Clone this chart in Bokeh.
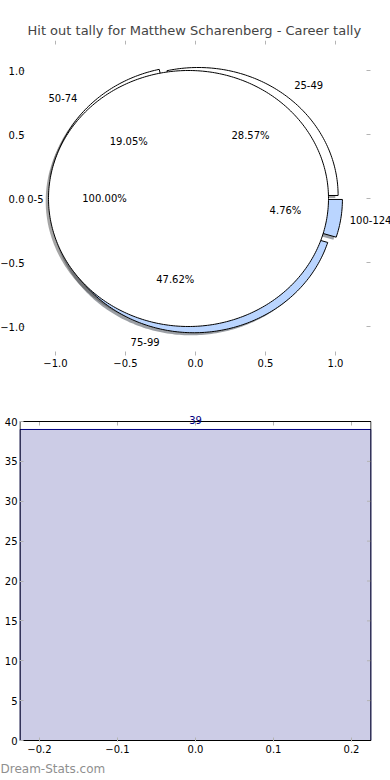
import numpy as np
from bokeh.plotting import figure
from bokeh.models import ColumnDataSource, Range1d, FixedTicker, LabelSet, Title
from bokeh.core.properties import value
from bokeh.embed import file_html
from bokeh.resources import INLINE

# ---------------- data ----------------
title_text = "Hit out tally for Matthew Scharenberg - Career tally"
outer_labels = ["25-49", "50-74", "75-99", "100-124"]
outer_counts = [6, 4, 10, 1]
outer_colors = ["#ffffff", "#ffffff", "#bad5ff", "#bad5ff"]
outer_explode = [0.03, 0.05, 0.05, 0.05]
inner_labels = ["0-5"]
inner_counts = [1]
inner_colors = ["#ffffff"]
inner_explode = [0.05]
pie_ticks = [-1.0, -0.5, 0.0, 0.5, 1.0]
pie_xlim = (-1.25, 1.25)

bar_x = [0.0]
bar_width = 0.45
bar_values = [39]
bar_xticks = [-0.2, -0.1, 0.0, 0.1, 0.2]
bar_yticks = [0, 5, 10, 15, 20, 25, 30, 35, 40]
watermark = "Dream-Stats.com"

FONT = "DejaVu Sans"
TICK_GREY = "#b4b4b4"
W = 390


def fmt(v, nd=1):
    s = f"{abs(v):.{nd}f}"
    return ("\u2212" + s) if v < 0 else s


def pie_geometry(counts, explode, start_deg=0.0):
    total = float(sum(counts))
    fr = np.asarray(counts, dtype=float) / total
    starts = np.radians(start_deg) + 2 * np.pi * np.concatenate([[0.0], np.cumsum(fr)[:-1]])
    xs, ys, lx, ly, px, py, pct = [], [], [], [], [], [], []
    for f, t0, e in zip(fr, starts, explode):
        t1 = t0 + 2 * np.pi * f
        mid = 0.5 * (t0 + t1)
        cx, cy = e * np.cos(mid), e * np.sin(mid)
        arc = np.linspace(t0, t1, max(int(360 * f), 12))
        ax = cx + np.cos(arc)
        ay = cy + np.sin(arc)
        if f >= 0.9999:
            xs.append(list(ax)); ys.append(list(ay))
        else:
            xs.append([cx] + list(ax) + [cx]); ys.append([cy] + list(ay) + [cy])
        lx.append(cx + 1.1 * np.cos(mid)); ly.append(cy + 1.1 * np.sin(mid))
        px.append(cx + 0.6 * np.cos(mid)); py.append(cy + 0.6 * np.sin(mid))
        pct.append(f"{100 * f:.2f}%")
    return xs, ys, lx, ly, px, py, pct


def shade(hexcol):
    h = hexcol.lstrip("#")
    r, g, b = (int(h[i:i + 2], 16) for i in (0, 2, 4))
    return "#%02x%02x%02x" % (int(0.3 * r), int(0.3 * g), int(0.3 * b))


def style_axis(ax, ticks, nd=1, standoff=3):
    ax.ticker = FixedTicker(ticks=ticks)
    ax.axis_line_color = None
    ax.major_tick_line_color = TICK_GREY
    ax.major_tick_in = 4
    ax.major_tick_out = 0
    ax.minor_tick_line_color = None
    ax.major_label_text_font = FONT
    ax.major_label_text_font_size = "10px"
    ax.major_label_text_color = "black"
    ax.major_label_standoff = standoff
    ax.major_label_overrides = {t: fmt(t, nd) for t in ticks}


def tick_marks(fig, xticks, yticks, x_edge, y_edge, sx, sy, x_dir=-1, y_dir=-1):
    # 4 px tick marks drawn from an edge, pointing into the axes
    fig.segment(x0=xticks, x1=xticks, y0=[y_edge] * len(xticks),
                y1=[y_edge + y_dir * 4.0 / sy] * len(xticks), line_color=TICK_GREY, line_width=1)
    fig.segment(x0=[x_edge] * len(yticks), x1=[x_edge + x_dir * 4.0 / sx] * len(yticks),
                y0=yticks, y1=yticks, line_color=TICK_GREY, line_width=1)


def add_labels(fig, xs, ys, texts, align, x_off=0, color="black"):
    src = ColumnDataSource(dict(x=xs, y=ys, t=texts))
    fig.add_layout(LabelSet(x="x", y="y", text="t", source=src, text_align=align,
                            x_offset=x_off, text_baseline="middle", text_font=value(FONT),
                            text_font_size="10px", text_color=color))


# ---------------- pie figure ----------------
H1 = 385
PIE_T, PIE_B = 40, 355      # page y of frame
CX, SX = 195, 140.0         # page x of 0, px per unit
CY, SY = 198, 128.0
y_top = (CY - PIE_T) / SY
p = figure(width=W, height=H1, output_backend="svg", toolbar_location=None,
           x_range=Range1d((0 - CX) / SX, (W - CX) / SX),
           y_range=Range1d((CY - PIE_B) / SY, y_top),
           y_axis_location=None,
           min_border_left=0, min_border_right=0,
           min_border_top=PIE_T, min_border_bottom=H1 - PIE_B, tools="")
p.outline_line_color = None
p.grid.visible = False
p.background_fill_color = "white"
p.border_fill_color = "white"
p.title.text = title_text
p.title.text_font = FONT
p.title.text_font_size = "13px"
p.title.text_font_style = "normal"
p.title.align = "left"
p.title.offset = 27
p.title.standoff = 6
style_axis(p.xaxis[0], pie_ticks)

oxs, oys, olx, oly, opx, opy, opct = pie_geometry(outer_counts, outer_explode)
ixs, iys, ilx, ily, ipx, ipy, ipct = pie_geometry(inner_counts, inner_explode)

shadow_src = ColumnDataSource(dict(
    xs=[[v - 0.02 for v in x] for x in oxs + ixs],
    ys=[[v - 0.02 for v in y] for y in oys + iys],
    c=[shade(c) for c in outer_colors + inner_colors]))
p.patches("xs", "ys", source=shadow_src, fill_color="c", fill_alpha=0.5, line_color=None)
outer_src = ColumnDataSource(dict(xs=oxs, ys=oys, c=outer_colors))
p.patches("xs", "ys", source=outer_src, fill_color="c", line_color="black", line_width=1)
inner_src = ColumnDataSource(dict(xs=ixs, ys=iys, c=inner_colors))
p.patches("xs", "ys", source=inner_src, fill_color="c", line_color="black", line_width=1)

# tick marks: top & right edges, and left edge (y axis of the pie axes)
tick_marks(p, pie_ticks, pie_ticks, pie_xlim[1], y_top, SX, SY)
tick_marks(p, [], pie_ticks, pie_xlim[0], y_top, SX, SY, x_dir=1)
# y tick labels of the pie axes
add_labels(p, [pie_xlim[0]] * len(pie_ticks), pie_ticks, [fmt(t) for t in pie_ticks], "right", 4)

# outer category labels (left aligned on the right half, right aligned on the left)
r_i = [i for i, x in enumerate(olx) if x > 0 and outer_labels[i] != "100-124"]
e_i = [i for i, x in enumerate(olx) if outer_labels[i] == "100-124"]
l_i = [i for i, x in enumerate(olx) if x <= 0]
add_labels(p, [olx[i] for i in r_i], [oly[i] for i in r_i], [outer_labels[i] for i in r_i], "left")
add_labels(p, [olx[i] for i in e_i], [oly[i] for i in e_i], [outer_labels[i] for i in e_i], "left", -5)
add_labels(p, [olx[i] for i in l_i], [oly[i] for i in l_i], [outer_labels[i] for i in l_i], "right")
add_labels(p, ilx, ily, inner_labels, "right", 9)
add_labels(p, opx + ipx, opy + ipy, opct + ipct, "center")

# ---------------- bar figure ----------------
H2 = 780 - H1
BY0 = 740                    # page y of value 0
BSY = (740 - 421) / 40.0     # px per unit
BX0, BSX = 195, 780.0
BAR_L, BAR_R = 19, 371       # frame, page x
BAR_T, BAR_B = 410, 741      # frame, page y
b = figure(width=W, height=H2, output_backend="svg", toolbar_location=None,
           x_range=Range1d((BAR_L - BX0) / BSX, (BAR_R - BX0) / BSX),
           y_range=Range1d((BY0 - BAR_B) / BSY, (BY0 - BAR_T) / BSY),
           min_border_left=BAR_L, min_border_right=W - BAR_R,
           min_border_top=BAR_T - H1, min_border_bottom=780 - BAR_B, tools="")
b.grid.visible = False
b.outline_line_color = None
b.background_fill_color = "white"
b.border_fill_color = "white"
style_axis(b.xaxis[0], bar_xticks)
style_axis(b.yaxis[0], bar_yticks, nd=0, standoff=2)

bar_src = ColumnDataSource(dict(x=bar_x, top=bar_values, t=[str(v) for v in bar_values]))
b.vbar(x="x", top="top", bottom=0, width=bar_width, source=bar_src,
       fill_color="#ccccE6", line_color="#000080", line_width=1)
box_l = bar_x[0] - bar_width / 2
box_r = bar_x[0] + bar_width / 2
tick_marks(b, bar_xticks, bar_yticks, box_r, bar_yticks[-1], BSX, BSY)
b.quad(left=[box_l], right=[box_r], bottom=[bar_yticks[0]], top=[bar_yticks[-1]],
       fill_color=None, line_color="black", line_width=1)
b.add_layout(LabelSet(x="x", y="top", text="t", source=bar_src, text_align="center",
                      text_baseline="bottom", y_offset=5, text_font=value(FONT),
                      text_font_size="10px", text_color="#000080"))
b.add_layout(Title(text=watermark, align="left", offset=-BAR_L, text_font=FONT,
                   text_font_size="12px", text_font_style="normal",
                   text_color="#8f8f8f", standoff=8), "below")

open("out.html", "w").write(file_html([p, b], INLINE))
